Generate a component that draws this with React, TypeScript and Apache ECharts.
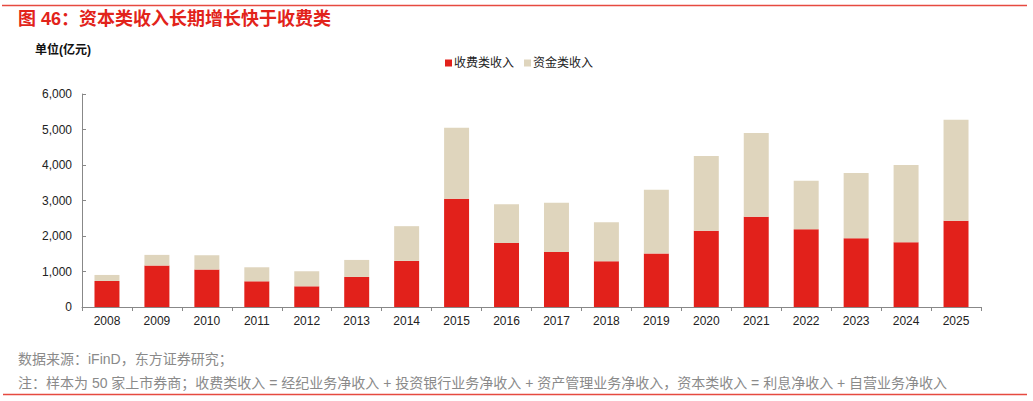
import React, { useEffect, useRef } from 'react';
import * as echarts from 'echarts';

const years = ['2008', '2009', '2010', '2011', '2012', '2013', '2014', '2015', '2016', '2017', '2018', '2019', '2020', '2021', '2022', '2023', '2024', '2025'];
// 收费类收入 (red, bottom)
const feeIncome = [734, 1166, 1054, 724, 583, 847, 1298, 3048, 1806, 1552, 1289, 1505, 2145, 2540, 2192, 1938, 1825, 2427];
// bar tops; the beige part is total minus fee
const totalIncome = [903, 1468, 1458, 1119, 1007, 1326, 2277, 5052, 2897, 2935, 2389, 3302, 4252, 4901, 3556, 3772, 3998, 5278];
const capitalIncome = totalIncome.map((t, i) => t - feeIncome[i]);

const RED = '#E2211B';
const BEIGE = '#DFD5BD';
const FONT = '"Liberation Sans", Arial, "Noto Sans CJK SC", sans-serif';

const App: React.FC = () => {
  const chartRef = useRef<HTMLDivElement | null>(null);

  useEffect(() => {
    document.body.style.margin = '0';
    const chart = echarts.init(chartRef.current!, undefined, { renderer: 'svg' });

    const option: echarts.EChartsOption = {
      animation: false,
      backgroundColor: '#fff',
      textStyle: { fontFamily: FONT },
      graphic: [
        {
          type: 'line',
          shape: { x1: 2, y1: 5.5, x2: 1027, y2: 5.5 },
          style: { stroke: '#E64A40', lineWidth: 1.5 },
        },
        {
          type: 'text',
          left: 18,
          top: 10,
          style: {
            text: '图 46：资本类收入长期增长快于收费类',
            fill: '#E2231A',
            font: `bold 18px ${FONT}`,
          },
        },
        {
          type: 'text',
          left: 35,
          top: 44,
          style: {
            text: '单位(亿元)',
            fill: '#111',
            font: `bold 12px ${FONT}`,
          },
        },
        {
          type: 'text',
          left: 18,
          top: 352,
          style: {
            text: '数据来源：iFinD，东方证券研究；',
            fill: '#8a8a8a',
            font: `14px ${FONT}`,
          },
        },
        {
          type: 'text',
          left: 18,
          top: 376,
          style: {
            text: '注：样本为 50 家上市券商；收费类收入 = 经纪业务净收入 + 投资银行业务净收入 + 资产管理业务净收入，资本类收入 = 利息净收入 + 自营业务净收入',
            fill: '#8a8a8a',
            font: `14px ${FONT}`,
          },
        },
        {
          type: 'line',
          shape: { x1: 3, y1: 394.5, x2: 1027, y2: 394.5 },
          style: { stroke: '#E64A40', lineWidth: 1.5 },
        },
      ],
      legend: {
        top: 52,
        left: 440,
        itemWidth: 7,
        itemHeight: 7,
        itemGap: 10,
        icon: 'rect',
        textStyle: { fontSize: 12, color: '#222', fontFamily: FONT, padding: [0, 0, 0, -3] },
        data: ['收费类收入', '资金类收入'],
      },
      grid: { left: 82, right: 52, top: 94, bottom: 94, containLabel: false },
      xAxis: {
        type: 'category',
        data: years,
        boundaryGap: true,
        axisLine: { lineStyle: { color: '#888', width: 1 } },
        axisTick: { show: true, length: 4, lineStyle: { color: '#888' } },
        axisLabel: { color: '#222', fontSize: 12, margin: 8 },
      },
      yAxis: {
        type: 'value',
        min: 0,
        max: 6000,
        interval: 1000,
        splitLine: { show: false },
        axisLine: { show: true, lineStyle: { color: '#888', width: 1 } },
        axisTick: { show: true, inside: true, length: 4, lineStyle: { color: '#888' } },
        axisLabel: {
          color: '#222',
          fontSize: 12,
          margin: 10,
          formatter: (v: number) => v.toLocaleString('en-US'),
        },
      },
      series: [
        {
          name: '收费类收入',
          type: 'bar',
          stack: 'total',
          data: feeIncome,
          barWidth: '50%',
          itemStyle: { color: RED },
        },
        {
          name: '资金类收入',
          type: 'bar',
          stack: 'total',
          data: capitalIncome,
          barWidth: '50%',
          itemStyle: { color: BEIGE },
        },
      ],
    };

    chart.setOption(option);

    return () => {
      chart.dispose();
    };
  }, []);

  return <div ref={chartRef} style={{ width: '1033px', height: '401px' }} />;
};

export default App;
